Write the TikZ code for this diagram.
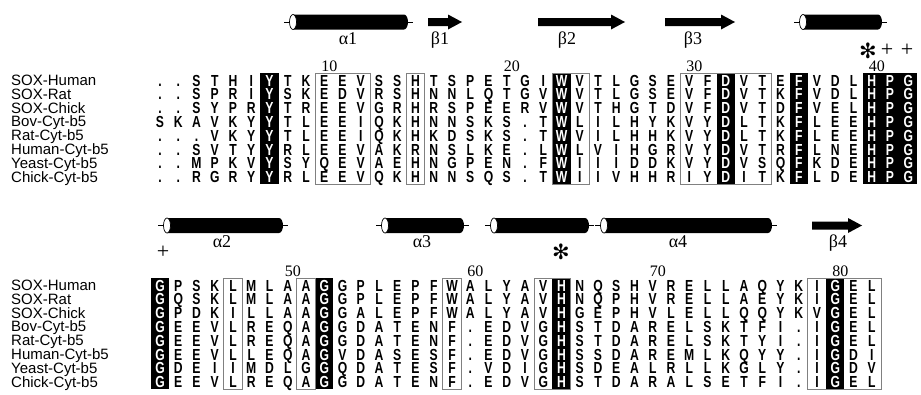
\documentclass[tikz,border=0pt]{standalone}
\usepackage{fontspec}
\setmainfont{Liberation Serif}
\setsansfont{Liberation Sans}
\newfontfamily\resfont[FakeStretch=0.76]{Liberation Sans Bold}
\newfontfamily\astfont{DejaVu Sans}
\usetikzlibrary{calc}
\tikzset{res/.style={anchor=base, inner sep=0pt, text height=11pt, text depth=0pt, font=\resfont\fontsize{16}{16}\selectfont},
  seqname/.style={anchor=base west, inner sep=0pt, text height=10.5pt, text depth=2pt, font=\sffamily\fontsize{15}{15}\selectfont},
  num/.style={anchor=base, inner sep=0pt, text depth=0pt, font=\fontsize{16}{16}\selectfont},
  sslabel/.style={anchor=base, inner sep=0pt, font=\fontsize{18}{18}\selectfont},
  site/.style={inner sep=0pt, font=\fontsize{22}{22}\selectfont},
  star/.style={inner sep=0pt, font=\astfont\fontsize{21}{21}\selectfont},
  conserved/.style={fill=black},
  similar/.style={draw=gray, line width=0.9pt}}
% helix: left end (ellipse centre), right end, height
\newcommand\helixbar[3]{%
  \draw[line width=0.9pt] (#1-9,#3) -- (#1,#3);
  \fill (#1,#3-7.5) -- (#2,#3-7.5) arc[start angle=-90, end angle=90, x radius=4, y radius=7.5] -- (#1,#3+7.5) -- cycle;
  \draw[line width=0.9pt] (#2+3,#3) -- (#2+9,#3);
  \draw[fill=white, line width=0.7pt] (#1,#3) ellipse[x radius=3.5, y radius=7.5];}
% strand: tail, tip, height
\newcommand\strandbar[3]{%
  \fill (#1,#3-4) -- (#2-14,#3-4) -- (#2-14,#3-7.5) -- (#2,#3) -- (#2-14,#3+7.5) -- (#2-14,#3+4) -- (#1,#3+4) -- cycle;}
\def\seqnames{SOX-Human,SOX-Rat,SOX-Chick,Bov-Cyt-b5,Rat-Cyt-b5,Human-Cyt-b5,Yeast-Cyt-b5,Chick-Cyt-b5}

\begin{document}
\begin{tikzpicture}[x=1pt, y=-1pt]
  \useasboundingbox (0,0) rectangle (921,394);
  \fill[white] (0,0) rectangle (921,394);
  % secondary structure, block 1
  \helixbar{293}{404}{22}
  \strandbar{428}{462}{22}
  \strandbar{538}{625}{22}
  \strandbar{665}{735}{22}
  \helixbar{803}{878}{22}
  \foreach \x/\t [count=\i] in {348/α1,440/β1,567/β2,693/β3}
    \node[sslabel] (ssa\i) at (\x,44) {\t};
  \node[star] (stara) at (868,51) {✻};
  \node[site] (plusa) at (887,50) {+};
  \node[site] (plusb) at (907,50) {+};
  % secondary structure, block 2
  \helixbar{167}{279}{225.5}
  \helixbar{385}{460}{225.5}
  \helixbar{494}{585}{225.5}
  \helixbar{604}{768}{225.5}
  \strandbar{812}{862}{225.5}
  \foreach \x/\t [count=\i] in {222/α2,422/α3,678/α4,838/β4}
    \node[sslabel] (ssb\i) at (\x,247) {\t};
  \node[site] (plusc) at (163,252) {+};
  \node[star] (starb) at (561,252) {✻};
  % residue numbers
  \foreach \n in {10,20,30,40}
    \node[num] (num\n) at ({160+(\n-1)*18.25+5},71.5) {\n};
  \foreach \n in {50,60,70,80}
    \node[num] (num\n) at ({160+(\n-43)*18.25+5},276) {\n};
  % sequence names
  \foreach \n [count=\r] in \seqnames {
    \node[seqname] (na\r) at (11,{85.5+(\r-1)*13.8}) {\n};
    \node[seqname] (nb\r) at (11,{290.5+(\r-1)*13.8}) {\n};}
  % block 1: identical columns, similar groups
  \foreach \c in {7,23,32,36,40,41,42}
    \fill[conserved] ({160+(\c-1)*18.25-9.2},73) rectangle ++(18.4,111);
  \foreach \a/\b in {10/12,15/15,23/24,30/34}
    \draw[similar] ({160+(\a-1)*18.25-9.2},73) rectangle ({160+(\b-1)*18.25+9.2},184);
  \foreach \s [count=\r] in {
      {.,.,S,T,H,I,Y,T,K,E,E,V,S,S,H,T,S,P,E,T,G,I,W,V,T,L,G,S,E,V,F,D,V,T,E,F,V,D,L,H,P,G},
      {.,.,S,P,R,I,Y,S,K,E,D,V,R,S,H,N,N,L,Q,T,G,V,W,V,T,L,G,S,E,V,F,D,V,T,K,F,V,D,L,H,P,G},
      {.,.,S,Y,P,R,Y,T,R,E,E,V,G,R,H,R,S,P,E,E,R,V,W,V,T,H,G,T,D,V,F,D,V,T,D,F,V,E,L,H,P,G},
      {S,K,A,V,K,Y,Y,T,L,E,E,I,Q,K,H,N,N,S,K,S,.,T,W,L,I,L,H,Y,K,V,Y,D,L,T,K,F,L,E,E,H,P,G},
      {.,.,.,V,K,Y,Y,T,L,E,E,I,Q,K,H,K,D,S,K,S,.,T,W,V,I,L,H,H,K,V,Y,D,L,T,K,F,L,E,E,H,P,G},
      {.,.,S,V,T,Y,Y,R,L,E,E,V,A,K,R,N,S,L,K,E,.,L,W,L,V,I,H,G,R,V,Y,D,V,T,R,F,L,N,E,H,P,G},
      {.,.,M,P,K,V,Y,S,Y,Q,E,V,A,E,H,N,G,P,E,N,.,F,W,I,I,I,D,D,K,V,Y,D,V,S,Q,F,K,D,E,H,P,G},
      {.,.,R,G,R,Y,Y,R,L,E,E,V,Q,K,H,N,N,S,Q,S,.,T,W,I,I,V,H,H,R,I,Y,D,I,T,K,F,L,D,E,H,P,G}}{
    \foreach \a [count=\c] in \s {
      \pgfmathtruncatemacro\w{(\c==7)||(\c==23)||(\c==32)||(\c==36)||(\c>39)}
      \ifnum\w=1 \def\tc{white}\else\def\tc{black}\fi
      \node[res, text=\tc] (r\r-\c) at ({160+(\c-1)*18.25},{86+(\r-1)*13.8}) {\a};}}
  % block 2: identical columns, similar groups
  \foreach \c in {1,10,23,38}
    \fill[conserved] ({160+(\c-1)*18.25-9.2},278) rectangle ++(18.4,111);
  \foreach \a/\b in {5/5,9/9,17/17,22/23,37/40}
    \draw[similar] ({160+(\a-1)*18.25-9.2},278) rectangle ({160+(\b-1)*18.25+9.2},389);
  \foreach \s [count=\r] in {
      {G,P,S,K,L,M,L,A,A,G,G,P,L,E,P,F,W,A,L,Y,A,V,H,N,Q,S,H,V,R,E,L,L,A,Q,Y,K,I,G,E,L},
      {G,Q,S,K,L,M,L,A,A,G,G,P,L,E,P,F,W,A,L,Y,A,V,H,N,Q,P,H,V,R,E,L,L,A,E,Y,K,I,G,E,L},
      {G,P,D,K,I,L,L,A,A,G,G,A,L,E,P,F,W,A,L,Y,A,V,H,G,E,P,H,V,L,E,L,L,Q,Q,Y,K,V,G,E,L},
      {G,E,E,V,L,R,E,Q,A,G,G,D,A,T,E,N,F,.,E,D,V,G,H,S,T,D,A,R,E,L,S,K,T,F,I,.,I,G,E,L},
      {G,E,E,V,L,R,E,Q,A,G,G,D,A,T,E,N,F,.,E,D,V,G,H,S,T,D,A,R,E,L,S,K,T,Y,I,.,I,G,E,L},
      {G,E,E,V,L,L,E,Q,A,G,V,D,A,S,E,S,F,.,E,D,V,G,H,S,S,D,A,R,E,M,L,K,Q,Y,Y,.,I,G,D,I},
      {G,D,E,I,I,M,D,L,G,G,Q,D,A,T,E,S,F,.,V,D,I,G,H,S,D,E,A,L,R,L,L,K,G,L,Y,.,I,G,D,V},
      {G,E,E,V,L,R,E,Q,A,G,G,D,A,T,E,N,F,.,E,D,V,G,H,S,T,D,A,R,A,L,S,E,T,F,I,.,I,G,E,L}}{
    \foreach \a [count=\c] in \s {
      \pgfmathtruncatemacro\w{(\c==1)||(\c==10)||(\c==23)||(\c==38)}
      \ifnum\w=1 \def\tc{white}\else\def\tc{black}\fi
      \node[res, text=\tc] (s\r-\c) at ({160+(\c-1)*18.25},{291+(\r-1)*13.8}) {\a};}}
\end{tikzpicture}
\end{document}
